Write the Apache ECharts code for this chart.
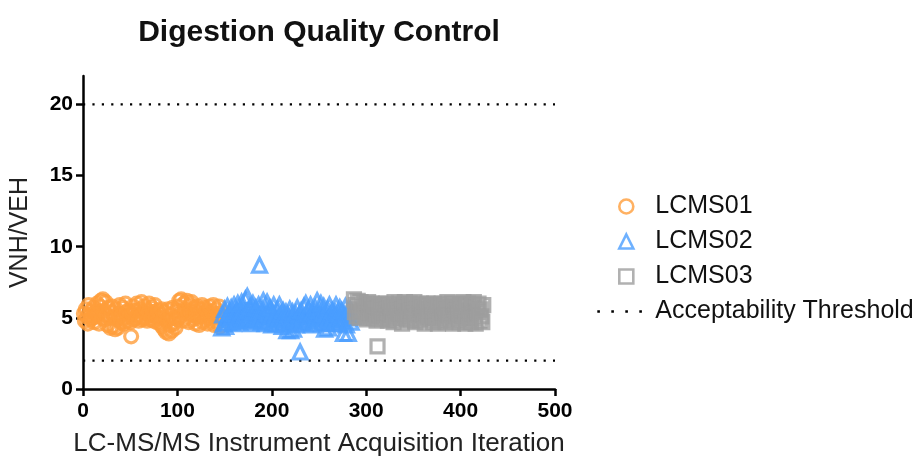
<!DOCTYPE html>
<html>
<head>
<meta charset="utf-8">
<script src="https://cdn.jsdelivr.net/npm/echarts@6/dist/echarts.min.js"></script>
<style>html,body{margin:0;padding:0;background:#fff;}#c{width:922px;height:462px;}</style>
</head>
<body>
<div id="c"></div>
<script>
// VNH/VEH ratio per acquisition, in acquisition order
const lcms01 = [
  5.3, 4.8, 5.6, 5.1, 4.6, 5.9, 5.2, 4.9, 5.5, 5.0,
  5.7, 4.7, 5.4, 5.1, 6.0, 5.3, 4.6, 5.8, 6.2, 5.0,
  6.3, 5.5, 4.9, 6.1, 5.2, 4.5, 5.7, 5.0, 4.3, 5.4,
  5.8, 4.4, 5.1, 4.2, 5.6, 4.9, 4.3, 5.3, 5.9, 4.7,
  5.2, 5.7, 4.6, 5.0, 6.0, 5.4, 4.8, 5.5, 5.1, 4.7,
  3.7, 5.3, 5.8, 4.9, 5.5, 5.0, 6.0, 5.2, 4.8, 5.6,
  5.1, 6.1, 4.9, 5.4, 5.8, 5.0, 5.6, 4.8, 5.3, 6.0,
  5.2, 4.9, 5.7, 5.4, 4.8, 5.9, 5.1, 4.7, 5.5, 5.0,
  5.3, 4.6, 5.6, 4.4, 5.0, 4.2, 5.4, 4.0, 4.8, 5.6,
  3.9, 4.5, 5.2, 4.1, 5.7, 4.6, 5.0, 4.3, 5.5, 4.9,
  5.8, 6.2, 5.1, 6.3, 5.4, 4.8, 6.0, 5.6, 5.0, 6.2,
  5.3, 4.7, 5.9, 5.5, 6.1, 4.9, 5.2, 5.7, 4.6, 5.4,
  5.8, 5.0, 4.5, 5.6, 5.1, 5.9, 4.7, 5.3, 5.7, 4.9,
  5.5, 4.6, 5.2, 5.8, 5.0, 4.8, 5.4, 5.9, 4.5, 5.1,
  5.6, 4.7, 5.3, 5.8, 4.4, 5.0
];
const lcms02 = [
  4.3, 5.2, 4.6, 5.6, 4.4, 5.0, 5.8, 4.7, 5.3, 4.9,
  5.7, 5.1, 4.6, 5.9, 5.3, 4.8, 5.5, 6.0, 5.0, 4.7,
  5.4, 6.1, 4.9, 5.6, 5.2, 6.3, 4.8, 6.5, 5.5, 5.0,
  5.8, 4.6, 5.3, 6.0, 4.9, 5.4, 5.7, 4.8, 5.2, 5.9,
  8.7, 5.1, 4.7, 5.6, 6.2, 5.0, 4.6, 5.5, 6.1, 5.3,
  4.8, 5.7, 5.1, 4.5, 5.4, 5.9, 4.9, 5.2, 4.6, 5.6,
  5.0, 5.9, 4.7, 5.3, 4.4, 5.5, 5.0, 4.8, 5.4, 4.1,
  5.2, 4.6, 5.6, 4.1, 5.0, 5.4, 4.2, 4.8, 5.3, 4.5,
  5.7, 4.9, 5.2, 2.6, 5.5, 4.7, 5.1, 5.8, 4.6, 6.0,
  5.3, 4.8, 5.6, 5.0, 5.9, 4.5, 5.4, 5.1, 4.7, 5.7,
  5.2, 6.2, 4.9, 5.5, 5.0, 6.0, 4.6, 5.3, 5.8, 4.2,
  5.1, 4.7, 5.6, 4.3, 5.9, 5.2, 4.8, 5.5, 5.0, 4.6,
  5.4, 5.9, 4.9, 5.3, 4.6, 5.7, 5.0, 5.5, 4.8, 3.9,
  5.2, 5.8, 4.5, 5.4, 3.9, 5.0, 5.6, 4.7, 5.3, 5.1
];
const lcms03 = [
  6.3, 5.4, 5.9, 5.1, 6.2, 5.6, 5.0, 6.1, 5.3, 5.8,
  5.5, 6.0, 5.2, 5.7, 4.9, 6.1, 5.4, 5.8, 5.1, 6.0,
  5.6, 5.0, 5.9, 5.3, 4.8, 3.0, 5.7, 5.2, 6.0, 5.5,
  4.9, 5.8, 5.4, 5.1, 6.0, 5.6, 4.8, 5.3, 5.9, 5.0,
  5.7, 5.2, 4.7, 6.1, 5.5, 4.9, 5.8, 5.3, 6.0, 5.1,
  5.6, 4.6, 5.9, 5.4, 6.1, 5.0, 5.7, 4.8, 5.3, 6.0,
  5.5, 4.9, 5.8, 5.2, 6.1, 4.7, 5.6, 5.1, 5.9, 5.4,
  4.8, 6.0, 5.3, 5.7, 5.0, 4.6, 5.9, 5.4, 6.0, 5.1,
  5.6, 4.9, 5.8, 5.2, 4.7, 6.0, 5.5, 5.0, 5.7, 4.6,
  5.9, 5.3, 4.8, 6.0, 5.4, 5.1, 5.8, 4.7, 5.6, 6.1,
  5.2, 4.9, 5.7, 5.4, 6.0, 4.6, 5.8, 5.1, 5.5, 4.8,
  6.0, 5.3, 4.7, 5.9, 5.6, 5.0, 6.1, 5.4, 4.6, 5.8,
  5.2, 6.0, 4.9, 5.5, 4.7, 5.9, 5.3, 6.1, 5.0, 4.6,
  5.7, 5.4, 6.0, 4.8, 5.6, 5.1, 4.7, 5.9
];
const thresholdLow = 2;
const thresholdHigh = 20;
const xRange = [0, 500];
const xTicks = [0, 100, 200, 300, 400, 500];
const yTicks = [0, 5, 10, 15, 20];
const instrumentNames = ['LCMS01', 'LCMS02', 'LCMS03'];
const thresholdName = 'Acceptability Threshold';

// assign running acquisition iteration numbers
let iter = 0;
function toPoints(arr) { return arr.map(v => { iter += 1; return [iter, v]; }); }
const p1 = toPoints(lcms01);
const p2 = toPoints(lcms02);
const p3 = toPoints(lcms03);

const FONT = 'Liberation Sans, Arial, sans-serif';
const chart = echarts.init(document.getElementById('c'), null, {renderer: 'canvas'});
const open = c => ({color: 'rgba(255,255,255,0)', borderColor: c, borderWidth: 3.2});
const legendText = {fontFamily: FONT, fontSize: 25, color: '#111'};
chart.setOption({
  animation: false,
  backgroundColor: '#fff',
  title: {
    text: 'Digestion Quality Control',
    left: 314, top: 13, textAlign: 'center',
    textStyle: {fontFamily: FONT, fontWeight: 'bold', fontSize: 30, color: '#111'}
  },
  legend: [{
    orient: 'vertical', left: 613, top: 189, itemGap: 10,
    itemWidth: 14, itemHeight: 14,
    data: instrumentNames,
    itemStyle: {borderWidth: 2.6},
    textStyle: Object.assign({padding: [0, 0, 0, 17]}, legendText)
  }, {
    orient: 'vertical', left: 591, top: 294,
    itemWidth: 46, itemHeight: 14,
    data: [thresholdName],
    itemStyle: {color: 'rgba(0,0,0,0)', borderWidth: 0},
    lineStyle: {color: '#000', width: 2.6, type: [2.6, 11.4]},
    textStyle: Object.assign({padding: [0, 0, 0, 7]}, legendText)
  }],
  grid: {left: 83, right: 367, top: 76, bottom: 72, containLabel: false},
  xAxis: {
    type: 'value', min: xRange[0], max: xRange[1], interval: 100,
    name: 'LC-MS/MS Instrument Acquisition Iteration', nameLocation: 'middle', nameGap: 42,
    nameTextStyle: {fontFamily: FONT, fontSize: 26, color: '#222'},
    axisLine: {show: true, onZero: false, lineStyle: {color: '#000', width: 2.5}},
    axisTick: {show: true, length: 7, lineStyle: {color: '#000', width: 2.5}, customValues: xTicks},
    axisLabel: {fontFamily: FONT, fontWeight: 'bold', fontSize: 21, color: '#000', margin: 12, customValues: xTicks},
    splitLine: {show: false}
  },
  yAxis: {
    type: 'value', min: 0, max: 22, interval: 5,
    name: 'VNH/VEH', nameLocation: 'middle', nameGap: 50,
    nameTextStyle: {fontFamily: FONT, fontSize: 25, color: '#222'},
    axisLine: {show: true, lineStyle: {color: '#000', width: 2.5}},
    axisTick: {show: true, length: 7, lineStyle: {color: '#000', width: 2.5}, customValues: yTicks},
    axisLabel: {fontFamily: FONT, fontWeight: 'bold', fontSize: 21, color: '#000', margin: 10, customValues: yTicks},
    splitLine: {show: false}
  },
  series: [
    {name: 'LCMS01', type: 'scatter', data: p1, symbol: 'circle', symbolSize: 13, itemStyle: open('#FF9D3B')},
    {name: 'LCMS02', type: 'scatter', data: p2, symbol: 'triangle', symbolSize: 14, itemStyle: open('#4A9DFF')},
    {name: 'LCMS03', type: 'scatter', data: p3, symbol: 'rect', symbolSize: 13, itemStyle: open('#9E9E9E')},
    {name: thresholdName, type: 'line', showSymbol: false, symbol: 'none', silent: true,
     data: [[xRange[0], thresholdLow], [xRange[1], thresholdLow]],
     lineStyle: {color: '#000', width: 2.2, type: [2.2, 7.2]}, itemStyle: {color: '#000'}, z: 1},
    {name: thresholdName, type: 'line', showSymbol: false, symbol: 'none', silent: true,
     data: [[xRange[0], thresholdHigh], [xRange[1], thresholdHigh]],
     lineStyle: {color: '#000', width: 2.2, type: [2.2, 7.2]}, itemStyle: {color: '#000'}, z: 1}
  ]
});
</script>
</body>
</html>
